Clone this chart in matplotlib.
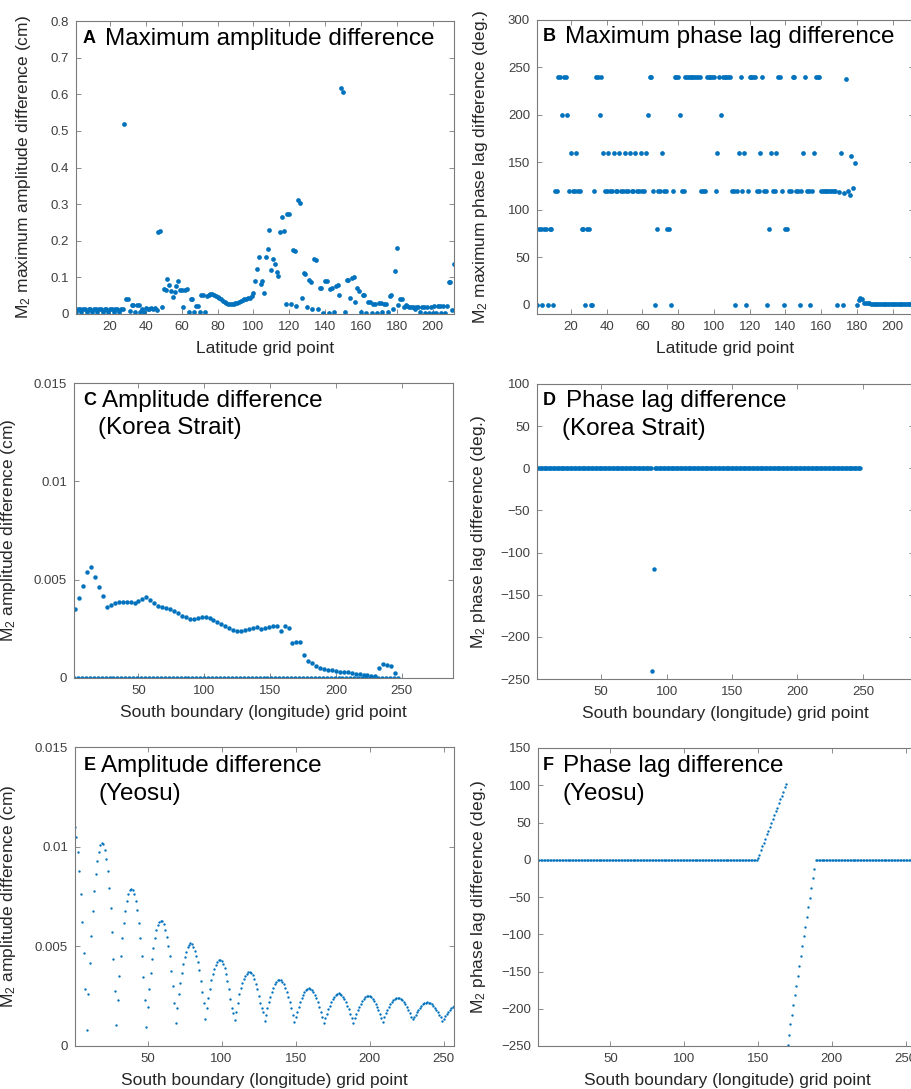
import numpy as np
import matplotlib
matplotlib.use("Agg")
import matplotlib.pyplot as plt

plt.rcParams["font.family"] = ["Liberation Sans", "DejaVu Sans"]
plt.rcParams["mathtext.fontset"] = "custom"
plt.rcParams["mathtext.rm"] = "Liberation Sans"
plt.rcParams["mathtext.it"] = "Liberation Sans:italic"

BLUE = "#0072BD"
W, H = 911, 1089

# ---- A: maximum amplitude difference per latitude grid point (cm)
A_amp = [
    0.006, 0.013, 0.013, 0.006, 0.013, 0.013, 0.006, 0.013, 0.013, 0.006,
    0.013, 0.013, 0.006, 0.013, 0.013, 0.006, 0.013, 0.013, 0.006, 0.013,
    0.013, 0.006, 0.013, 0.013, 0.006, 0.013, 0.014, 0.520, 0.040, 0.040,
    0.008, 0.024, 0.024, 0.005, 0.024, 0.024, 0.005, 0.015, 0.006, 0.016,
    0.015, 0.015, 0.016, 0.015, 0.016, 0.010, 0.225, 0.227, 0.020, 0.068,
    0.066, 0.096, 0.079, 0.064, 0.046, 0.060, 0.077, 0.091, 0.066, 0.065,
    0.018, 0.066, 0.067, 0.005, 0.040, 0.040, 0.005, 0.022, 0.022, 0.005,
    0.053, 0.053, 0.005, 0.048, 0.052, 0.054, 0.054, 0.053, 0.050, 0.047,
    0.044, 0.040, 0.036, 0.033, 0.030, 0.028, 0.027, 0.027, 0.028, 0.029,
    0.031, 0.033, 0.036, 0.039, 0.041, 0.041, 0.043, 0.045, 0.050, 0.056,
    0.091, 0.124, 0.155, 0.082, 0.090, 0.058, 0.155, 0.178, 0.229, 0.120,
    0.151, 0.136, 0.115, 0.104, 0.223, 0.266, 0.226, 0.027, 0.273, 0.273,
    0.026, 0.174, 0.172, 0.021, 0.310, 0.304, 0.043, 0.113, 0.110, 0.019,
    0.092, 0.088, 0.013, 0.149, 0.147, 0.015, 0.072, 0.071, 0.004, 0.091,
    0.091, 0.004, 0.069, 0.070, 0.005, 0.076, 0.078, 0.051, 0.617, 0.606,
    0.005, 0.093, 0.093, 0.043, 0.097, 0.100, 0.032, 0.072, 0.063, 0.005,
    0.052, 0.052, 0.004, 0.034, 0.033, 0.004, 0.026, 0.026, 0.004, 0.029,
    0.030, 0.005, 0.027, 0.028, 0.005, 0.050, 0.053, 0.015, 0.118, 0.179,
    0.025, 0.041, 0.040, 0.019, 0.024, 0.022, 0.020, 0.020, 0.018, 0.015,
    0.020, 0.020, 0.005, 0.020, 0.020, 0.002, 0.020, 0.002, 0.020, 0.002,
    0.021, 0.002, 0.021, 0.021, 0.002, 0.022, 0.002, 0.022, 0.088, 0.088,
    0.010, 0.136,
]

# ---- B: maximum phase lag difference per latitude grid point (deg.)
B_phase = [
    0, 80, 80, 0, 80, 80, 0, 80, 80, 0,
    120, 120, 240, 240, 200, 240, 240, 200, 120, 160,
    120, 120, 160, 120, 120, 80, 80, 0, 80, 80,
    0, 0, 120, 240, 240, 200, 240, 160, 120, 120,
    160, 120, 120, 160, 120, 120, 160, 120, 120, 160,
    120, 120, 160, 120, 120, 160, 120, 120, 160, 120,
    120, 160, 200, 240, 240, 120, 0, 80, 120, 120,
    160, 120, 120, 80, 80, 0, 120, 240, 240, 240,
    200, 120, 120, 240, 240, 240, 240, 240, 240, 240,
    240, 240, 120, 120, 120, 240, 240, 240, 240, 240,
    120, 160, 240, 200, 240, 240, 240, 240, 240, 120,
    120, 0, 120, 160, 240, 120, 160, 0, 120, 240,
    240, 240, 240, 120, 120, 160, 240, 120, 120, 0,
    80, 160, 120, 120, 160, 240, 240, 120, 0, 80,
    80, 120, 120, 240, 240, 120, 120, 0, 120, 160,
    240, 120, 120, 0, 120, 160, 240, 240, 240, 120,
    120, 120, 120, 120, 120, 120, 120, 120, 0, 119,
    160, 0, 118, 238, 120, 116, 157, 123, 149, 0,
    4.8, 7.3, 6.2, 2.0, 1.4, 1.2, 1.1, 1.0, 0.9, 0.8,
    0.8, 0.7, 0.7, 0.6, 0.6, 0.5, 0.5, 0.5, 0.4, 0.4,
    0.4, 0.4, 0.3, 0.3, 0.3, 0.3, 0.3, 0.2, 0.2, 0.2, 0.2,
]

# ---- C: amplitude difference, Korea Strait (cm), points every 3rd grid point
C_start, C_step = 2, 3
C_amp_milli = [
    3.49, 4.05, 4.69, 5.37, 5.63, 5.15, 4.65, 4.17, 3.59, 3.72,
    3.82, 3.87, 3.87, 3.86, 3.85, 3.80, 3.92, 4.04, 4.10, 3.98,
    3.80, 3.67, 3.61, 3.56, 3.50, 3.40, 3.28, 3.16, 3.08, 3.00,
    2.99, 3.04, 3.09, 3.12, 3.04, 2.93, 2.83, 2.74, 2.63, 2.53,
    2.44, 2.38, 2.37, 2.42, 2.48, 2.53, 2.57, 2.49, 2.53, 2.60,
    2.64, 2.65, 2.41, 2.64, 2.55, 1.80, 1.81, 1.83, 1.15, 0.85,
    0.75, 0.62, 0.50, 0.46, 0.43, 0.40, 0.37, 0.33, 0.31, 0.28,
    0.24, 0.20, 0.18, 0.17, 0.15, 0.12, 0.10, 0.52, 0.71, 0.66,
    0.62, 0.27,
]
C_zero_first, C_zero_last = 1, 248
C_zero_value = 0.0

# ---- D: phase lag difference, Korea Strait (deg.)
D_zero_first, D_zero_last = 1, 248
D_outlier_x = [89, 90]
D_outlier_y = [-240, -120]

# ---- E: amplitude difference, Yeosu (1e-3 cm), grid points 1..257
E_amp_milli = [
    11.0, 10.47, 9.72, 8.78, 7.61, 6.24, 4.65, 2.84, 0.82, 2.59,
    4.15, 5.54, 6.76, 7.78, 8.63, 9.27, 9.75, 10.09, 10.17, 10.13,
    9.83, 9.40, 8.77, 7.94, 6.94, 5.74, 4.37, 2.78, 1.04, 2.32,
    3.50, 4.52, 5.40, 6.19, 6.79, 7.28, 7.61, 7.83, 7.88, 7.83,
    7.63, 7.28, 6.81, 6.17, 5.43, 4.52, 3.48, 2.31, 0.97, 1.97,
    2.84, 3.65, 4.35, 4.93, 5.43, 5.82, 6.06, 6.24, 6.29, 6.27,
    6.12, 5.84, 5.45, 5.02, 4.52, 3.78, 3.03, 2.14, 1.14, 1.89,
    2.61, 3.14, 3.65, 4.11, 4.48, 4.73, 4.95, 5.07, 5.15, 5.12,
    4.98, 4.77, 4.53, 4.23, 3.82, 3.28, 2.73, 2.14, 1.34, 1.89,
    2.39, 2.86, 3.31, 3.60, 3.85, 4.05, 4.20, 4.32, 4.33, 4.27,
    4.10, 3.90, 3.60, 3.26, 2.86, 2.36, 1.89, 1.67, 1.30, 1.72,
    2.17, 2.59, 2.89, 3.14, 3.34, 3.51, 3.63, 3.69, 3.71, 3.65,
    3.55, 3.34, 3.11, 2.84, 2.52, 2.14, 1.89, 1.70, 1.27, 1.57,
    1.89, 2.19, 2.46, 2.71, 2.92, 3.09, 3.21, 3.29, 3.31, 3.29,
    3.21, 3.09, 2.92, 2.71, 2.46, 2.19, 1.89, 1.57, 1.22, 1.46,
    1.72, 1.97, 2.19, 2.39, 2.57, 2.71, 2.81, 2.87, 2.89, 2.87,
    2.81, 2.71, 2.57, 2.39, 2.19, 1.97, 1.72, 1.46, 1.17, 1.40,
    1.62, 1.84, 2.03, 2.21, 2.36, 2.48, 2.57, 2.62, 2.64, 2.62,
    2.57, 2.48, 2.36, 2.21, 2.03, 1.84, 1.62, 1.40, 1.17, 1.41,
    1.61, 1.80, 1.98, 2.13, 2.27, 2.38, 2.46, 2.50, 2.52, 2.50,
    2.46, 2.38, 2.27, 2.13, 1.98, 1.80, 1.61, 1.41, 1.22, 1.47,
    1.65, 1.81, 1.96, 2.09, 2.21, 2.30, 2.37, 2.41, 2.42, 2.41,
    2.37, 2.30, 2.21, 2.09, 1.96, 1.81, 1.65, 1.47, 1.35, 1.44,
    1.58, 1.70, 1.82, 1.93, 2.02, 2.09, 2.15, 2.18, 2.19, 2.18,
    2.15, 2.09, 2.02, 1.93, 1.82, 1.70, 1.58, 1.44, 1.25, 1.37,
    1.50, 1.61, 1.72, 1.82, 1.90, 1.96, 2.01,
]

# ---- F: phase lag difference, Yeosu (deg.)
F_zero_left = (1, 149)
F_rise_first = 150
F_rise = [2, 7, 13, 18, 23, 28, 34, 39, 44, 49, 55, 60, 65, 70, 76, 81, 86, 91, 97, 102]
F_drop_first = 170
F_drop = [-248, -235, -221, -208, -195, -182, -169, -156, -142, -129,
          -116, -103, -90, -77, -64, -51, -38, -25, -12]
F_zero_right = (189, 257)

LAT_LABEL = "Latitude grid point"
SOUTH_LABEL = "South boundary (longitude) grid point"


def add_axes(fig, left, top, right, bottom):
    return fig.add_axes([left / W, 1 - bottom / H, (right - left) / W, (bottom - top) / H])


def style(ax):
    for s in ax.spines.values():
        s.set_color("#7a7a7a")
        s.set_linewidth(0.8)
    ax.tick_params(direction="in", top=True, right=True, length=3.5, width=0.6,
                   color="#7a7a7a", labelsize=9.5, labelcolor="#404040", pad=5)


def labels(ax, xlabel, ylabel, ylab_x):
    ax.set_xlabel(xlabel, fontsize=12.5, color="#262626", labelpad=6)
    ax.set_ylabel(ylabel, fontsize=12.5, color="#262626")
    ax.yaxis.set_label_coords(ylab_x, 0.5)


def ftext(fig, x, y, s, **kw):
    fig.text(x / W, 1 - y / H, s, va="baseline", ha="left", color="black", **kw)


def panel_title(fig, letter, lx, ly, lines):
    ftext(fig, lx, ly, letter, fontsize=13, fontweight="bold")
    for x, y, s in lines:
        ftext(fig, x, y, s, fontsize=17.5)


def main():
    fig = plt.figure(figsize=(W / 100, H / 100), dpi=100)
    mk = dict(ls="none", marker="o", color=BLUE, mec="none", clip_on=True)

    # A
    ax = add_axes(fig, 76, 21, 454, 314)
    style(ax)
    ax.plot(np.arange(1, len(A_amp) + 1), A_amp, ms=3.4, **mk)
    ax.set_xlim(1, 212)
    ax.set_ylim(0, 0.8)
    ax.set_xticks(np.arange(20, 201, 20))
    ax.set_yticks(np.arange(0, 0.81, 0.1))
    ax.set_yticklabels(["0", "0.1", "0.2", "0.3", "0.4", "0.5", "0.6", "0.7", "0.8"])
    labels(ax, LAT_LABEL, r"M$_2$ maximum amplitude difference (cm)", -0.113)
    panel_title(fig, "A", 83, 43, [(105, 45, "Maximum amplitude difference")])

    # B
    ax = add_axes(fig, 537, 20, 914, 314)
    style(ax)
    ax.plot(np.arange(1, len(B_phase) + 1), B_phase, ms=3.4, **mk)
    ax.set_xlim(1, 212)
    ax.set_ylim(-10, 300)
    ax.set_xticks(np.arange(20, 201, 20))
    ax.set_yticks(np.arange(0, 301, 50))
    labels(ax, LAT_LABEL, r"M$_2$ maximum phase lag difference (deg.)", -0.125)
    panel_title(fig, "B", 543, 41, [(565, 43, "Maximum phase lag difference")])

    # C
    ax = add_axes(fig, 74, 383, 453, 678)
    style(ax)
    cz = np.arange(C_zero_first, C_zero_last + 1, 3)
    ax.plot(cz, np.full(len(cz), C_zero_value), ms=3.2, **mk)
    cx = np.arange(C_start, C_start + C_step * len(C_amp_milli), C_step)
    ax.plot(cx, np.array(C_amp_milli) / 1000, ms=3.2, **mk)
    ax.set_xlim(1, 289)
    ax.set_ylim(0, 0.015)
    ax.set_xticks(np.arange(50, 251, 50))
    ax.set_yticks([0, 0.005, 0.01, 0.015])
    ax.set_yticklabels(["0", "0.005", "0.01", "0.015"])
    labels(ax, SOUTH_LABEL, r"M$_2$ amplitude difference (cm)", -0.148)
    panel_title(fig, "C", 83, 405, [(102, 407, "Amplitude difference"),
                                     (98, 434, "(Korea Strait)")])

    # D
    ax = add_axes(fig, 537, 384, 914, 679)
    style(ax)
    dz = np.array([x for x in range(D_zero_first, D_zero_last + 1) if x not in D_outlier_x])
    ax.plot(dz, np.zeros(len(dz)), ms=3.2, **mk)
    ax.plot(D_outlier_x, D_outlier_y, ms=3.2, **mk)
    ax.set_xlim(1, 289)
    ax.set_ylim(-250, 100)
    ax.set_xticks(np.arange(50, 251, 50))
    ax.set_yticks(np.arange(-250, 101, 50))
    labels(ax, SOUTH_LABEL, r"M$_2$ phase lag difference (deg.)", -0.130)
    panel_title(fig, "D", 543, 405, [(566, 407, "Phase lag difference"),
                                      (562, 435, "(Korea Strait)")])

    # E
    ax = add_axes(fig, 75, 747, 454, 1046)
    style(ax)
    ax.plot(np.arange(1, len(E_amp_milli) + 1), np.array(E_amp_milli) / 1000, ms=1.7, **mk)
    ax.set_xlim(1, 257)
    ax.set_ylim(0, 0.015)
    ax.set_xticks(np.arange(50, 251, 50))
    ax.set_yticks([0, 0.005, 0.01, 0.015])
    ax.set_yticklabels(["0", "0.005", "0.01", "0.015"])
    labels(ax, SOUTH_LABEL, r"M$_2$ amplitude difference (cm)", -0.150)
    panel_title(fig, "E", 84, 770, [(101, 772, "Amplitude difference"),
                                     (98, 800, "(Yeosu)")])

    # F
    ax = add_axes(fig, 538, 748, 916, 1046)
    style(ax)
    fl = np.arange(F_zero_left[0], F_zero_left[1] + 1)
    fr = np.arange(F_zero_right[0], F_zero_right[1] + 1)
    ax.plot(fl, np.zeros(len(fl)), ms=1.7, **mk)
    ax.plot(np.arange(F_rise_first, F_rise_first + len(F_rise)), F_rise, ms=1.7, **mk)
    ax.plot(np.arange(F_drop_first, F_drop_first + len(F_drop)), F_drop, ms=1.7, **mk)
    ax.plot(fr, np.zeros(len(fr)), ms=1.7, **mk)
    ax.set_xlim(1, 257)
    ax.set_ylim(-250, 150)
    ax.set_xticks(np.arange(50, 251, 50))
    ax.set_yticks(np.arange(-250, 151, 50))
    labels(ax, SOUTH_LABEL, r"M$_2$ phase lag difference (deg.)", -0.133)
    panel_title(fig, "F", 543, 770, [(563, 772, "Phase lag difference"),
                                      (562, 800, "(Yeosu)")])

    fig.savefig("out.png", dpi=100, facecolor="white")


if __name__ == "__main__":
    main()
